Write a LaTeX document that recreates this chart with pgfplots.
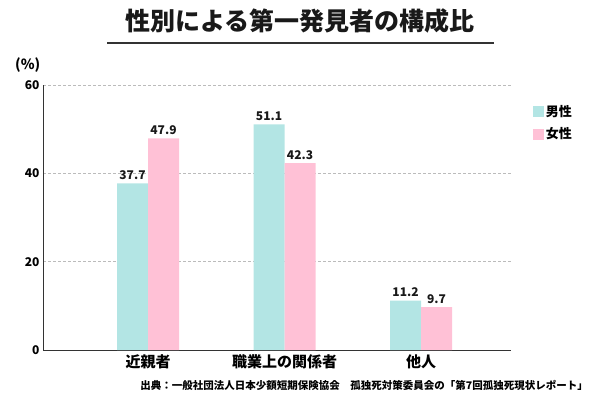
\documentclass[border=0pt]{standalone}
\usepackage{pgfplots}
\pgfplotsset{compat=1.18}
\usepackage{fontspec}
\setmainfont{Noto Sans CJK JP}
\definecolor{male}{HTML}{B3E5E4}
\definecolor{female}{HTML}{FFC1D6}
\definecolor{axisgray}{HTML}{333333}
\definecolor{gridgray}{HTML}{BBBBBB}
\begin{document}
\begin{tikzpicture}
\begin{axis}[
  at={(148pt,50pt)}, anchor=origin,
  scale only axis, width=468pt, height=265pt,
  xmin=-0.769, xmax=2.659, ymin=0, ymax=60,
  ybar=0pt, bar width=31pt,
  xtick={0,1,2}, xticklabels={近親者,職業上の関係者,他人},
  ytick={0,20,40,60},
  axis x line*=bottom, axis y line*=left,
  axis line style={axisgray, line width=0.9pt, -},
  major tick length=0pt,
  ymajorgrids, grid style={gridgray, dash pattern=on 3pt off 2pt, line width=0.6pt},
  x tick label style={font=\fontsize{15}{17}\selectfont\bfseries, yshift=-1pt},
  y tick label style={font=\fontsize{12}{14}\selectfont\bfseries},
  /pgf/number format/assume math mode=true,
  nodes near coords,
  nodes near coords style={font=\fontsize{12}{14}\selectfont\bfseries, text=black!90, /pgf/number format/fixed, /pgf/number format/precision=1, /pgf/number format/fixed zerofill},
  legend style={at={(rel axis cs:1.04,0.94)}, anchor=north west, draw=none, fill=none,
    font=\fontsize{13}{15}\selectfont\bfseries, row sep=6pt,
    /tikz/every even column/.append style={column sep=4pt}},
  legend image code/.code={\fill[#1] (0pt,-5.5pt) rectangle (11pt,5.5pt);},
]
\addplot[fill=male, draw=none] coordinates {(0,37.7) (1,51.1) (2,11.2)};
\addplot[fill=female, draw=none] coordinates {(0,47.9) (1,42.3) (2,9.7)};
\legend{男性,女性}
\end{axis}
\node[font=\fontsize{25}{28}\selectfont\bfseries, text=black!90] at (300pt,379pt) {性別による第一発見者の構成比};
\draw[line width=1.3pt, axisgray] (107pt,357pt) -- (494pt,357pt);
\node[font=\fontsize{14}{16}\selectfont\bfseries, anchor=west, inner sep=0pt] at (15pt,335pt) {(\%)};
\node[font=\fontsize{10.5}{12}\selectfont\bfseries, anchor=east, inner sep=0pt] at (588pt,15pt) {出典：一般社団法人日本少額短期保険協会　孤独死対策委員会の「第7回孤独死現状レポート」};
\path (0pt,0pt) rectangle (600pt,400pt);
\end{tikzpicture}
\end{document}
